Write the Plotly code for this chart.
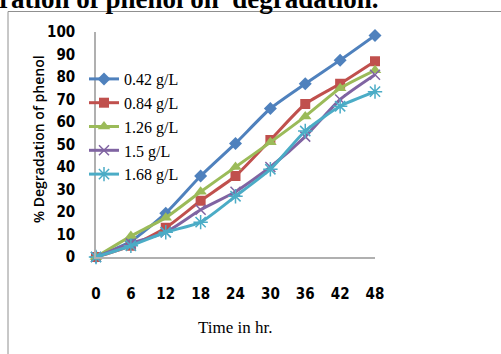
import plotly.graph_objects as go

time_hr = [0, 6, 12, 18, 24, 30, 36, 42, 48]
series_names = ["0.42 g/L", "0.84 g/L", "1.26 g/L", "1.5 g/L", "1.68 g/L"]
deg_042 = [0, 7, 19.5, 36, 50.5, 66, 77, 87.5, 98.5]
deg_084 = [0, 5, 13, 25, 36, 52, 68, 77, 87]
deg_126 = [0, 9.3, 17.5, 29, 40, 51, 62.5, 75, 83]
deg_150 = [0, 6, 11, 21, 29, 40, 53.5, 70, 81]
deg_168 = [0, 5, 11, 15.5, 27, 39, 56, 67, 73.5]
y_ticks = [0, 10, 20, 30, 40, 50, 60, 70, 80, 90, 100]

colors = ["#4F81BD", "#C0504D", "#9BBB59", "#8064A2", "#4BACC6"]
symbols = ["diamond", "square", "triangle-up", "x-thin", "asterisk"]
sizes = [10, 10, 11, 10, 12]
data = [deg_042, deg_084, deg_126, deg_150, deg_168]

fig = go.Figure()
for name, ys, c, s, sz in zip(series_names, data, colors, symbols, sizes):
    marker = dict(symbol=s, size=sz, color=c)
    if s in ("x-thin", "asterisk"):
        marker["line"] = dict(color=c, width=1.5)
    fig.add_trace(go.Scatter(
        x=time_hr, y=ys, name=name, mode="lines+markers",
        line=dict(color=c, width=3, shape="spline", smoothing=0.6),
        marker=marker, cliponaxis=False))

W, H = 501, 354
L, R, T, B = 96, 375, 32, 257
pw, ph = R - L, B - T
def px(x): return (x - L) / pw
def py(y): return (B - y) / ph

tick_font = dict(family="Liberation Sans Narrow, DejaVu Sans Condensed, Arial Narrow", size=15, color="black", weight="bold")

fig.update_layout(
    width=W, height=H,
    margin=dict(l=L, r=W - R, t=T, b=H - B),
    plot_bgcolor="white", paper_bgcolor="white",
    showlegend=True,
    legend=dict(x=px(84), y=py(62), xanchor="left", yanchor="top",
                bgcolor="rgba(0,0,0,0)", tracegroupgap=0, itemwidth=30,
                font=dict(family="Liberation Serif, Times New Roman", size=16, color="black")),
    xaxis=dict(range=[0, 48], tickvals=time_hr, showgrid=False, zeroline=False,
               showline=True, linecolor="#b0b0b0", linewidth=1.5, ticks="",
               tickfont=tick_font, ticklabelstandoff=22),
    yaxis=dict(range=[0, 100], tickvals=y_ticks, showgrid=False, zeroline=False,
               showline=True, linecolor="#b0b0b0", linewidth=1.5, ticks="",
               tickfont=tick_font, ticklabelstandoff=16),
    shapes=[dict(type="rect", xref="paper", yref="paper",
                 x0=px(8), x1=px(510), y0=py(370), y1=py(11.5),
                 line=dict(color="#909090", width=1))],
    annotations=[
        dict(text="ration of phenol on  degradation.", xref="paper", yref="paper",
             x=px(-3), y=py(16), xanchor="left", yanchor="bottom", showarrow=False,
             font=dict(family="Liberation Serif, Times New Roman", size=27, color="black", weight="bold")),
        dict(text="% Degradation of phenol", xref="paper", yref="paper",
             x=px(38), y=py(139), xanchor="center", yanchor="middle", textangle=-90,
             showarrow=False,
             font=dict(family="Open Sans, Liberation Sans", size=14, color="black", weight=600)),
        dict(text="Time in hr.", xref="paper", yref="paper",
             x=px(235), y=py(327), xanchor="center", yanchor="middle", showarrow=False,
             font=dict(family="Liberation Serif, Times New Roman", size=17, color="black")),
    ],
)

fig.write_html("out.html")
